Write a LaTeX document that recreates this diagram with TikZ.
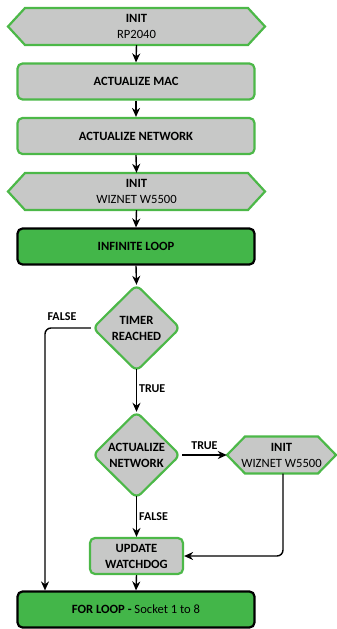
\documentclass[tikz,border=0pt]{standalone}
\usepackage{fontspec}
\setmainfont{Carlito}
\usetikzlibrary{arrows.meta,shapes.geometric,positioning}
\definecolor{gbord}{HTML}{4CB848}
\definecolor{gfill}{HTML}{43B649}
\definecolor{gray1}{HTML}{C7C8C7}
\newcommand{\fsz}{\fontsize{12.6}{16}\selectfont}
\tikzset{
  procbox/.style={draw=gbord, fill=gray1, line width=2.2pt, rounded corners=5pt, minimum width=237pt, minimum height=36pt, inner sep=0pt, align=center, font=\bfseries\fsz},
  loopbox/.style={draw=black, fill=gfill, line width=2.2pt, rounded corners=5pt, minimum width=237pt, minimum height=36pt, inner sep=0pt, align=center, font=\bfseries\fsz},
  hexbox/.style={draw=gbord, fill=gray1, line width=2.2pt},
  decbox/.style={draw=gbord, fill=gray1, line width=2.2pt, rounded corners=6pt},
  conn/.style={draw=black, line width=1.4pt, -{Stealth[length=9pt,width=8pt]}},
  lbl/.style={font=\bfseries\fontsize{12}{14}\selectfont, inner sep=0pt},
  txtb/.style={font=\bfseries\fsz, inner sep=0pt},
  txtn/.style={font=\fsz, inner sep=0pt},
}
\begin{document}
\begin{tikzpicture}[x=1pt,y=-1pt]
\useasboundingbox (0,0) rectangle (337,629);
% hexagon 1
\path[hexbox] (8,26.5) -- (25,8) -- (248,8) -- (265,26.5) -- (248,45) -- (25,45) -- cycle;
\node (h1) at (136.5,26.5) [minimum width=257pt, minimum height=37pt, inner sep=0pt] {};
\node[txtb] at (136.5,18.5) {INIT};
\node[txtn] at (136.5,34.5) {RP2040};
% boxes
\node[procbox] (mac) at (136,81.5) {ACTUALIZE MAC};
\node[procbox] (net) at (136,136) {ACTUALIZE NETWORK};
% hexagon 2
\path[hexbox] (8,191.5) -- (25,173) -- (248,173) -- (265,191.5) -- (248,210) -- (25,210) -- cycle;
\node (h2) at (136.5,191.5) [minimum width=257pt, minimum height=37pt, inner sep=0pt] {};
\node[txtb] at (136.5,183.5) {INIT};
\node[txtn] at (136.5,199.5) {WIZNET W5500};
% infinite loop
\node[loopbox] (inf) at (136,246.5) {INFINITE LOOP};
% diamond timer
\path[decbox] (136.5,285) -- (180,328) -- (136.5,371) -- (93,328) -- cycle;
\node (tim) at (136.5,328) [minimum width=87pt, minimum height=86pt, inner sep=0pt] {};
\node[txtb] at (136.5,320) {TIMER};
\node[txtb] at (136.5,336) {REACHED};
% diamond actualize network
\path[decbox] (136.5,412) -- (180,455) -- (136.5,498) -- (93,455) -- cycle;
\node (act) at (136.5,455) [minimum width=87pt, minimum height=86pt, inner sep=0pt] {};
\node[txtb] at (136.5,447) {ACTUALIZE};
\node[txtb] at (136.5,463) {NETWORK};
% small hexagon
\path[hexbox] (227,455) -- (245,436.5) -- (318,436.5) -- (336,455) -- (318,473.5) -- (245,473.5) -- cycle;
\node (h3) at (281.5,455) [minimum width=109pt, minimum height=37pt, inner sep=0pt] {};
\node[txtb] at (281.5,447) {INIT};
\node[txtn] at (281.5,463) {WIZNET W5500};
% update watchdog
\node[procbox, minimum width=93pt, minimum height=36pt] (wd) at (136.5,556) {};
\node[txtb] at (136.5,548) {UPDATE};
\node[txtb] at (136.5,564) {WATCHDOG};
% for loop
\node[loopbox] (for) at (136,609.5) {FOR LOOP - \mdseries Socket 1 to 8};
% connectors
\draw[conn] (h1.south) -- (mac.north);
\draw[conn] (mac.south) -- (net.north);
\draw[conn] (net.south) -- (h2.north);
\draw[conn] (h2.south) -- (inf.north);
\draw[conn] (inf.south) -- (tim.north);
\draw[conn] ([yshift=2pt]tim.south) -- node[lbl, right=2pt, pos=0.45] {TRUE} (act.north);
\draw[conn] ([xshift=2pt]act.east) -- node[lbl, above=5pt] {TRUE} (h3.west);
\draw[conn] ([yshift=2pt]act.south) -- node[lbl, right=2pt, pos=0.5] {FALSE} (wd.north);
\coordinate (fc) at (45,328);
\draw[conn, rounded corners=6pt] ([xshift=-2pt]tim.west) -- (fc) -- (for.north -| fc);
\node[lbl] at (62,317) {FALSE};
\draw[conn, rounded corners=6pt] ([xshift=1.5pt]h3.south) |- (wd.east);
\draw[conn] (wd.south) -- (for.north);
\end{tikzpicture}
\end{document}
